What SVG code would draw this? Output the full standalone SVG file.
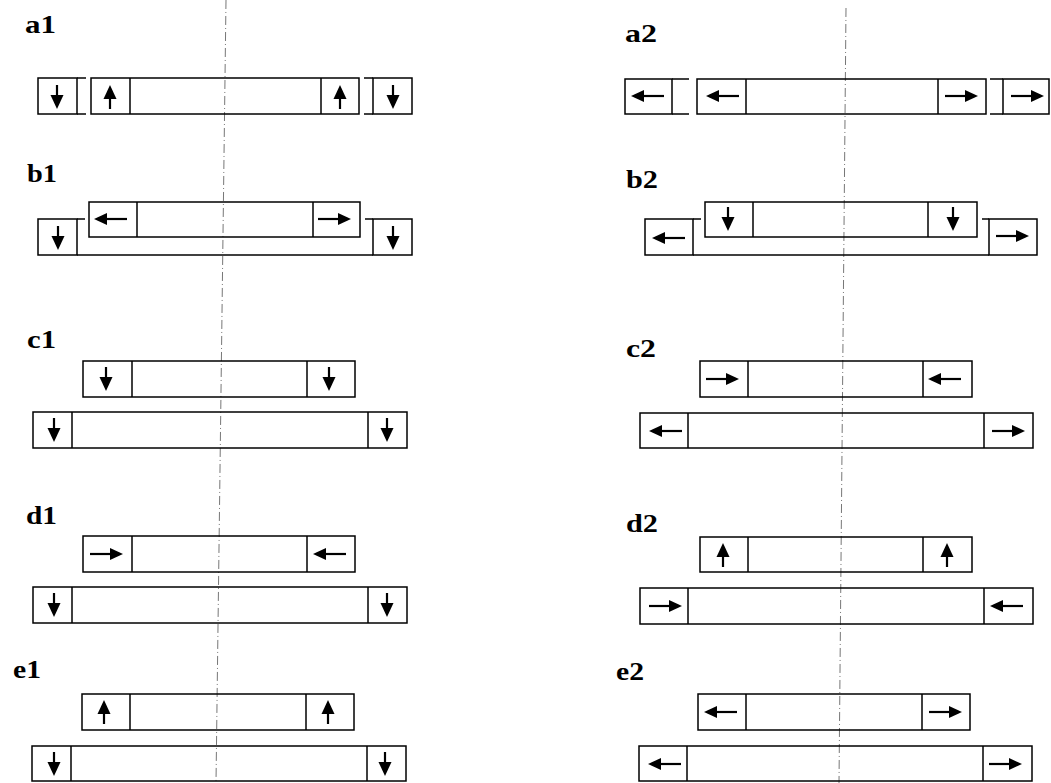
<svg xmlns="http://www.w3.org/2000/svg" xmlns:xlink="http://www.w3.org/1999/xlink" width="1051" height="783" viewBox="0 0 1051 783">
<style>
.bx{fill:none;stroke:#000;stroke-width:1.5}
.ln{stroke:#000;stroke-width:1.5}
.lb{font-family:"Liberation Serif","Times New Roman",serif;font-weight:bold;font-size:26px;fill:#000}
.cl{stroke:#777;stroke-width:1;stroke-dasharray:9 3 1 3;fill:none}
.arl{stroke:#000;stroke-width:2.2}
</style>
<defs>
<g id="aR"><line class="arl" x1="-16" y1="0" x2="5" y2="0"/><polygon points="17,0 4,-6 4,6" fill="#000"/></g>
<g id="aD"><line class="arl" x1="0" y1="-12" x2="0" y2="-1"/><polygon points="0,12 -6.5,-2 6.5,-2" fill="#000"/></g>
</defs>
<rect width="1051" height="783" fill="#fff"/>
<g id="centerlines">
<line class="cl" x1="226" y1="0" x2="216" y2="783"/>
<line class="cl" x1="846" y1="8" x2="839" y2="783"/>
</g>
<g id="connectors"/>

<g id="a1">
<text class="lb" x="25" y="33" textLength="31" lengthAdjust="spacingAndGlyphs">a1</text>
<rect class="bx" x="38" y="78" width="39" height="36"/>
<line class="ln" x1="77" y1="78" x2="86" y2="78"/><line class="ln" x1="77" y1="114" x2="86" y2="114"/>
<rect class="bx" x="91" y="78" width="268" height="36"/>
<line class="ln" x1="130" y1="78" x2="130" y2="114"/><line class="ln" x1="321" y1="78" x2="321" y2="114"/>
<line class="ln" x1="364" y1="78" x2="373" y2="78"/><line class="ln" x1="364" y1="114" x2="373" y2="114"/>
<rect class="bx" x="373" y="78" width="39" height="36"/>
<use xlink:href="#aD" transform="translate(57,97)"/>
<use xlink:href="#aD" transform="translate(110,97) rotate(180)"/>
<use xlink:href="#aD" transform="translate(340,97) rotate(180)"/>
<use xlink:href="#aD" transform="translate(393,97)"/>
</g>

<g id="a2">
<text class="lb" x="625" y="42" textLength="32" lengthAdjust="spacingAndGlyphs">a2</text>
<rect class="bx" x="625" y="79" width="47" height="35"/>
<line class="ln" x1="672" y1="79" x2="689" y2="79"/><line class="ln" x1="672" y1="114" x2="689" y2="114"/>
<rect class="bx" x="697" y="79" width="289" height="35"/>
<line class="ln" x1="746" y1="79" x2="746" y2="114"/><line class="ln" x1="938" y1="79" x2="938" y2="114"/>
<line class="ln" x1="990" y1="79" x2="1003" y2="79"/><line class="ln" x1="990" y1="114" x2="1003" y2="114"/>
<rect class="bx" x="1003" y="79" width="46" height="35"/>
<use xlink:href="#aR" transform="translate(648,96) rotate(180)"/>
<use xlink:href="#aR" transform="translate(723,96) rotate(180)"/>
<use xlink:href="#aR" transform="translate(961,96)"/>
<use xlink:href="#aR" transform="translate(1027,96)"/>
</g>

<g id="b1">
<text class="lb" x="27" y="182" textLength="30" lengthAdjust="spacingAndGlyphs">b1</text>
<rect class="bx" x="89" y="202" width="271" height="35"/>
<line class="ln" x1="137" y1="202" x2="137" y2="237"/><line class="ln" x1="313" y1="202" x2="313" y2="237"/>
<use xlink:href="#aR" transform="translate(111,219) rotate(180)"/>
<use xlink:href="#aR" transform="translate(334,219)"/>
<rect class="bx" x="38" y="219" width="39" height="36"/>
<line class="ln" x1="77" y1="219" x2="85" y2="219"/>
<line class="ln" x1="77" y1="255" x2="373" y2="255"/>
<rect class="bx" x="373" y="219" width="39" height="36"/>
<line class="ln" x1="365" y1="219" x2="373" y2="219"/>
<use xlink:href="#aD" transform="translate(58,238)"/>
<use xlink:href="#aD" transform="translate(393,238)"/>
</g>

<g id="b2">
<text class="lb" x="626" y="188" textLength="32" lengthAdjust="spacingAndGlyphs">b2</text>
<rect class="bx" x="705" y="202" width="272" height="35"/>
<line class="ln" x1="753" y1="202" x2="753" y2="237"/><line class="ln" x1="928" y1="202" x2="928" y2="237"/>
<use xlink:href="#aD" transform="translate(728,219)"/>
<use xlink:href="#aD" transform="translate(953,219)"/>
<rect class="bx" x="645" y="219" width="48" height="36"/>
<line class="ln" x1="693" y1="219" x2="701" y2="219"/>
<line class="ln" x1="693" y1="255" x2="989" y2="255"/>
<rect class="bx" x="989" y="219" width="48" height="36"/>
<line class="ln" x1="982" y1="219" x2="989" y2="219"/>
<use xlink:href="#aR" transform="translate(669,238) rotate(180)"/>
<use xlink:href="#aR" transform="translate(1012,236)"/>
</g>

<g id="c1">
<text class="lb" x="27" y="348" textLength="29" lengthAdjust="spacingAndGlyphs">c1</text>
<rect class="bx" x="83" y="361" width="272" height="36"/>
<line class="ln" x1="132" y1="361" x2="132" y2="397"/><line class="ln" x1="307" y1="361" x2="307" y2="397"/>
<use xlink:href="#aD" transform="translate(106,379)"/>
<use xlink:href="#aD" transform="translate(329,379)"/>
<rect class="bx" x="33" y="412" width="374" height="36"/>
<line class="ln" x1="72" y1="412" x2="72" y2="448"/><line class="ln" x1="368" y1="412" x2="368" y2="448"/>
<use xlink:href="#aD" transform="translate(54,430)"/>
<use xlink:href="#aD" transform="translate(387,430)"/>
</g>

<g id="c2">
<text class="lb" x="626" y="357" textLength="30" lengthAdjust="spacingAndGlyphs">c2</text>
<rect class="bx" x="700" y="361" width="272" height="36"/>
<line class="ln" x1="748" y1="361" x2="748" y2="397"/><line class="ln" x1="923" y1="361" x2="923" y2="397"/>
<use xlink:href="#aR" transform="translate(722,379)"/>
<use xlink:href="#aR" transform="translate(945,379) rotate(180)"/>
<rect class="bx" x="640" y="413" width="393" height="35"/>
<line class="ln" x1="688" y1="413" x2="688" y2="448"/><line class="ln" x1="984" y1="413" x2="984" y2="448"/>
<use xlink:href="#aR" transform="translate(666,431) rotate(180)"/>
<use xlink:href="#aR" transform="translate(1008,431)"/>
</g>

<g id="d1">
<text class="lb" x="26" y="524" textLength="31" lengthAdjust="spacingAndGlyphs">d1</text>
<rect class="bx" x="83" y="536" width="272" height="36"/>
<line class="ln" x1="132" y1="536" x2="132" y2="572"/><line class="ln" x1="307" y1="536" x2="307" y2="572"/>
<use xlink:href="#aR" transform="translate(106,554)"/>
<use xlink:href="#aR" transform="translate(330,554) rotate(180)"/>
<rect class="bx" x="33" y="587" width="374" height="36"/>
<line class="ln" x1="72" y1="587" x2="72" y2="623"/><line class="ln" x1="368" y1="587" x2="368" y2="623"/>
<use xlink:href="#aD" transform="translate(54,605)"/>
<use xlink:href="#aD" transform="translate(387,605)"/>
</g>

<g id="d2">
<text class="lb" x="626" y="532" textLength="32" lengthAdjust="spacingAndGlyphs">d2</text>
<rect class="bx" x="700" y="537" width="272" height="35"/>
<line class="ln" x1="748" y1="537" x2="748" y2="572"/><line class="ln" x1="923" y1="537" x2="923" y2="572"/>
<use xlink:href="#aD" transform="translate(723,555) rotate(180)"/>
<use xlink:href="#aD" transform="translate(947,555) rotate(180)"/>
<rect class="bx" x="640" y="588" width="393" height="36"/>
<line class="ln" x1="688" y1="588" x2="688" y2="624"/><line class="ln" x1="984" y1="588" x2="984" y2="624"/>
<use xlink:href="#aR" transform="translate(665,606)"/>
<use xlink:href="#aR" transform="translate(1007,606) rotate(180)"/>
</g>

<g id="e1">
<text class="lb" x="13" y="678" textLength="28" lengthAdjust="spacingAndGlyphs">e1</text>
<rect class="bx" x="82" y="694" width="272" height="36"/>
<line class="ln" x1="130" y1="694" x2="130" y2="730"/><line class="ln" x1="306" y1="694" x2="306" y2="730"/>
<use xlink:href="#aD" transform="translate(104,712) rotate(180)"/>
<use xlink:href="#aD" transform="translate(328,712) rotate(180)"/>
<rect class="bx" x="32" y="746" width="374" height="35"/>
<line class="ln" x1="71" y1="746" x2="71" y2="781"/><line class="ln" x1="367" y1="746" x2="367" y2="781"/>
<use xlink:href="#aD" transform="translate(54,764)"/>
<use xlink:href="#aD" transform="translate(385,764)"/>
</g>

<g id="e2">
<text class="lb" x="616" y="680" textLength="28" lengthAdjust="spacingAndGlyphs">e2</text>
<rect class="bx" x="698" y="694" width="272" height="36"/>
<line class="ln" x1="746" y1="694" x2="746" y2="730"/><line class="ln" x1="922" y1="694" x2="922" y2="730"/>
<use xlink:href="#aR" transform="translate(721,712) rotate(180)"/>
<use xlink:href="#aR" transform="translate(945,712)"/>
<rect class="bx" x="639" y="746" width="393" height="35"/>
<line class="ln" x1="687" y1="746" x2="687" y2="781"/><line class="ln" x1="983" y1="746" x2="983" y2="781"/>
<use xlink:href="#aR" transform="translate(665,764) rotate(180)"/>
<use xlink:href="#aR" transform="translate(1005,764)"/>
</g>
</svg>
